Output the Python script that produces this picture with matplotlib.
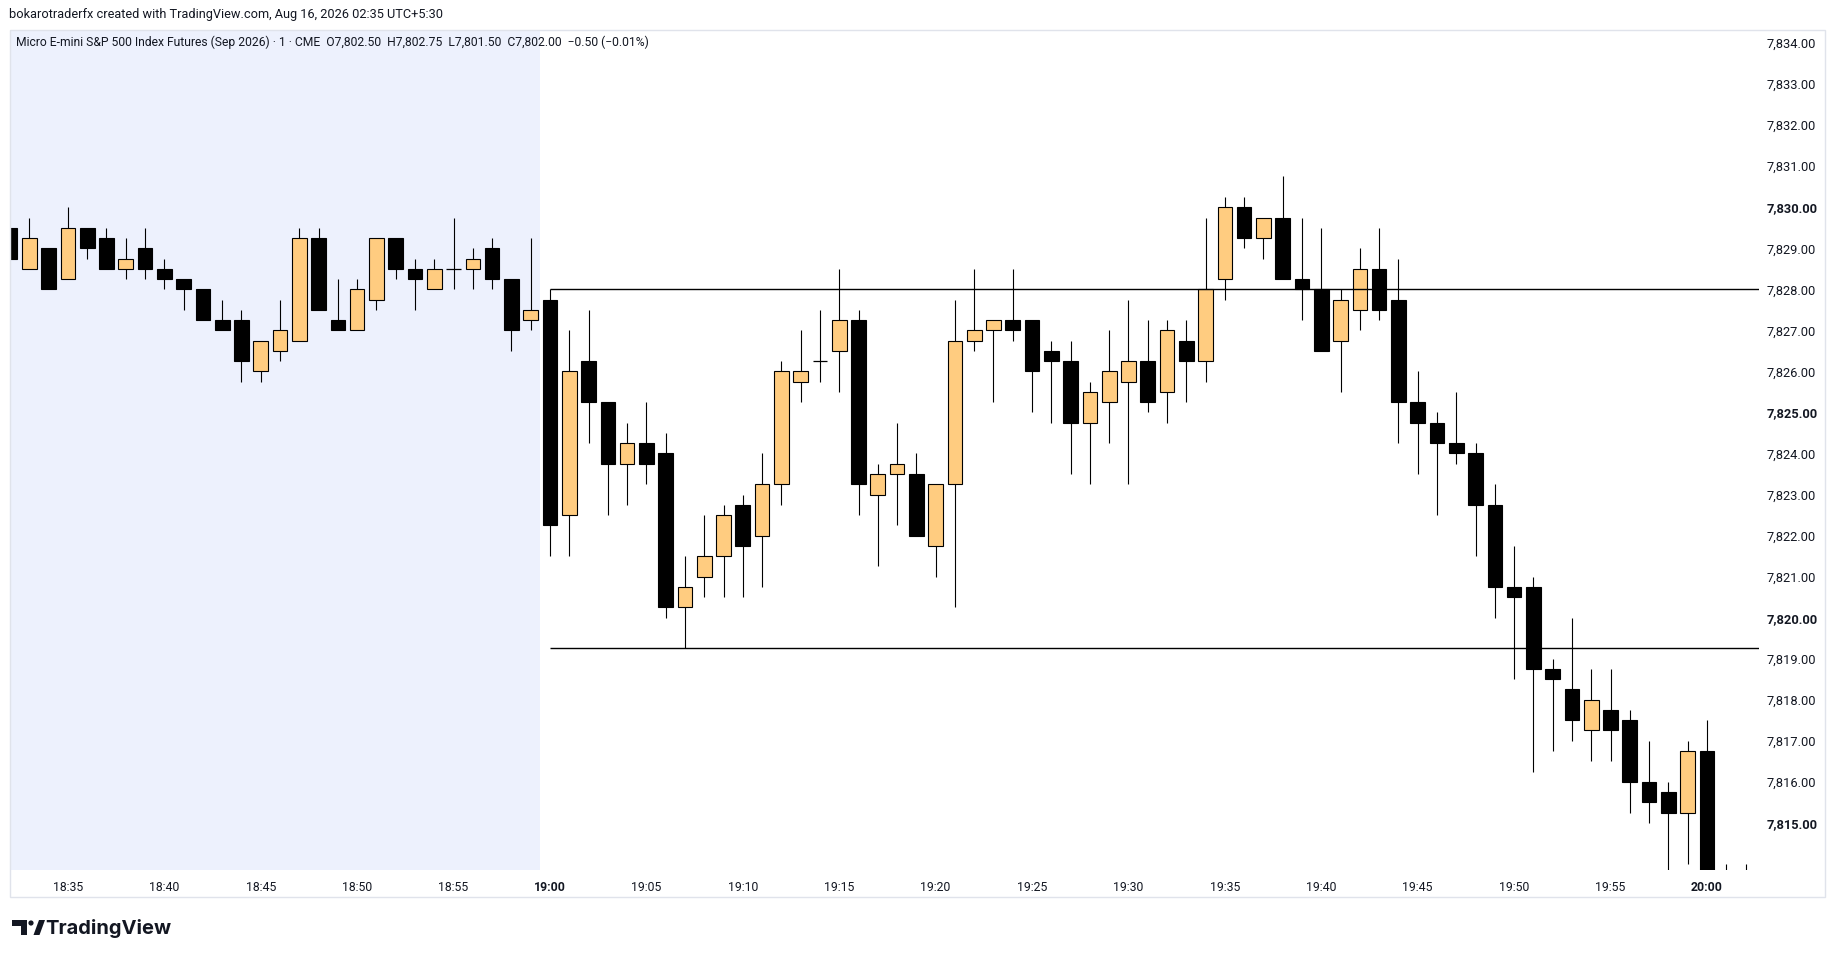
import numpy as np
import matplotlib
matplotlib.use('Agg')
import matplotlib.pyplot as plt
from matplotlib.patches import Rectangle, Polygon, Circle

plt.rcParams['font.family'] = ['Roboto', 'DejaVu Sans']

# 1 minute candles, 18:32 .. 20:02 (x = minutes from 19:00)
start_minute = -28
opens = [7829.5, 7828.5, 7829.0, 7828.25, 7829.5, 7829.25, 7828.5, 7829.0, 7828.5, 7828.25,
         7828.0, 7827.25, 7827.25, 7826.0, 7826.5, 7826.75, 7829.25, 7827.25, 7827.0, 7827.75,
         7829.25, 7828.5, 7828.0, 7828.5, 7828.5, 7829.0, 7828.25, 7827.25,
         7827.75, 7822.5, 7826.25, 7825.25, 7823.75, 7824.25, 7824.0, 7820.25, 7821.0, 7821.5,
         7822.75, 7822.0, 7823.25, 7825.75, 7826.25, 7826.5, 7827.25, 7823.0, 7823.5, 7823.5,
         7821.75, 7823.25, 7826.75, 7827.0, 7827.25, 7827.25, 7826.5, 7826.25, 7824.75, 7825.25,
         7825.75, 7826.25, 7825.5, 7826.75, 7826.25, 7828.25, 7830.0, 7829.25, 7829.75, 7828.25,
         7828.0, 7826.75, 7827.5, 7828.5, 7827.75, 7825.25, 7824.75, 7824.25, 7824.0, 7822.75,
         7820.75, 7820.75, 7818.75, 7818.25, 7817.25, 7817.75, 7817.5, 7816.0, 7815.75, 7815.25,
         7816.75, 7812.0, 7811.75]
highs = [7829.5, 7829.75, 7829.0, 7830.0, 7829.5, 7829.5, 7829.25, 7829.5, 7828.75, 7828.25,
         7828.0, 7827.75, 7827.5, 7826.75, 7827.75, 7829.5, 7829.5, 7828.25, 7828.25, 7829.25,
         7829.25, 7828.75, 7828.75, 7829.75, 7829.0, 7829.25, 7828.25, 7829.25,
         7828.0, 7827.0, 7827.5, 7825.25, 7824.75, 7825.25, 7824.5, 7821.5, 7822.5, 7822.75,
         7823.0, 7824.0, 7826.25, 7827.0, 7827.5, 7828.5, 7827.5, 7823.75, 7824.75, 7824.0,
         7823.25, 7827.75, 7828.5, 7827.25, 7828.5, 7827.25, 7826.75, 7826.75, 7825.75, 7827.0,
         7827.75, 7827.25, 7827.25, 7827.25, 7829.75, 7830.25, 7830.25, 7829.75, 7830.75, 7829.75,
         7829.5, 7828.0, 7829.0, 7829.5, 7828.75, 7826.0, 7825.0, 7825.5, 7824.25, 7823.25,
         7821.75, 7821.0, 7819.0, 7820.0, 7818.75, 7818.75, 7817.75, 7817.0, 7816.0, 7817.0,
         7817.5, 7814.0, 7814.0]
lows = [7828.75, 7828.5, 7828.0, 7828.25, 7828.75, 7828.5, 7828.25, 7828.25, 7828.0, 7827.5,
        7827.25, 7827.0, 7825.75, 7825.75, 7826.25, 7826.75, 7827.5, 7827.0, 7827.0, 7827.5,
        7828.25, 7827.5, 7828.0, 7828.0, 7828.0, 7828.0, 7826.5, 7827.0,
        7821.5, 7821.5, 7824.25, 7822.5, 7822.75, 7823.25, 7820.0, 7819.25, 7820.5, 7820.5,
        7820.5, 7820.75, 7822.75, 7825.25, 7825.75, 7825.5, 7822.5, 7821.25, 7822.25, 7822.0,
        7821.0, 7820.25, 7826.5, 7825.25, 7826.75, 7825.0, 7824.75, 7823.5, 7823.25, 7824.25,
        7823.25, 7825.0, 7824.75, 7825.25, 7825.75, 7827.75, 7829.0, 7828.75, 7828.25, 7827.25,
        7826.5, 7825.5, 7827.0, 7827.25, 7824.25, 7823.5, 7822.5, 7823.75, 7821.5, 7820.0,
        7818.5, 7816.25, 7816.75, 7817.0, 7816.5, 7816.5, 7815.25, 7815.0, 7813.5, 7814.0,
        7811.5, 7811.25, 7811.0]
closes = [7828.75, 7829.25, 7828.0, 7829.5, 7829.0, 7828.5, 7828.75, 7828.5, 7828.25, 7828.0,
          7827.25, 7827.0, 7826.25, 7826.75, 7827.0, 7829.25, 7827.5, 7827.0, 7828.0, 7829.25,
          7828.5, 7828.25, 7828.5, 7828.5, 7828.75, 7828.25, 7827.0, 7827.5,
          7822.25, 7826.0, 7825.25, 7823.75, 7824.25, 7823.75, 7820.25, 7820.75, 7821.5, 7822.5,
          7821.75, 7823.25, 7826.0, 7826.0, 7826.25, 7827.25, 7823.25, 7823.5, 7823.75, 7822.0,
          7823.25, 7826.75, 7827.0, 7827.25, 7827.0, 7826.0, 7826.25, 7824.75, 7825.5, 7826.0,
          7826.25, 7825.25, 7827.0, 7826.25, 7828.0, 7830.0, 7829.25, 7829.75, 7828.25, 7828.0,
          7826.5, 7827.75, 7828.5, 7827.5, 7825.25, 7824.75, 7824.25, 7824.0, 7822.75, 7820.75,
          7820.5, 7818.75, 7818.5, 7817.5, 7818.0, 7817.25, 7816.0, 7815.5, 7815.25, 7816.75,
          7812.0, 7811.75, 7812.5]

level_lines = [7828.0, 7819.25]
price_ticks = list(range(7815, 7835))
time_ticks = ['18:35', '18:40', '18:45', '18:50', '18:55', '19:00', '19:05', '19:10', '19:15',
              '19:20', '19:25', '19:30', '19:35', '19:40', '19:45', '19:50', '19:55', '20:00']

title = 'bokarotraderfx created with TradingView.com, Aug 16, 2026 02:35 UTC+5:30'
legend = ('Micro E-mini S&P 500 Index Futures (Sep 2026) \u00b7 1 \u00b7 CME  O7,802.50  H7,802.75  '
          'L7,801.50  C7,802.00  \u22120.50 (\u22120.01%)')

W, H = 1835, 958
fig = plt.figure(figsize=(W / 100, H / 100), dpi=100)
fig.patch.set_facecolor('white')

px_l, px_r, px_t, px_b = 9.5, 1759, 30, 870
ax = fig.add_axes([px_l / W, 1 - px_b / H, (px_r - px_l) / W, (px_b - px_t) / H])
ax.set_xlim(-28.03, 62.7)
ax.set_ylim(7813.85, 7834.32)
ax.axvspan(-40, -0.5, color='#edf1fd', lw=0, zorder=0)

orange = '#ffcc80'
bw = 0.76
for i in range(len(opens)):
    x = start_minute + i
    o, h, l, c = opens[i], highs[i], lows[i], closes[i]
    ax.vlines(x, l, h, color='black', lw=0.8, zorder=2)
    if o == c:
        ax.hlines(o, x - bw / 2, x + bw / 2, color='black', lw=0.9, zorder=3)
        continue
    if c > o:
        rect = Rectangle((x - bw / 2, o), bw, c - o, fc=orange, ec='black', lw=0.8, zorder=3)
    else:
        rect = Rectangle((x - bw / 2, c), bw, o - c, fc='black', ec='black', lw=0.8, zorder=3)
    ax.add_patch(rect)

ax.hlines(level_lines, 0, 70, color='black', lw=1.0, zorder=4)

ax.yaxis.tick_right()
ax.set_yticks(price_ticks)
ax.set_yticklabels([f'{v:,.2f}' for v in price_ticks])
for v, lab in zip(price_ticks, ax.get_yticklabels()):
    if v % 5 == 0:
        lab.set_fontweight('bold')
ax.set_xticks(np.arange(-25, 61, 5))
ax.set_xticklabels(time_ticks)
for t, lab in zip(time_ticks, ax.get_xticklabels()):
    if t.endswith(':00'):
        lab.set_fontweight('bold')
ax.tick_params(axis='y', length=0, pad=5.5, labelsize=9.3, labelcolor='#131722')
ax.tick_params(axis='x', length=0, pad=8, labelsize=8.8, labelcolor='#131722')
for s in ax.spines.values():
    s.set_visible(False)

# overlay in pixel coordinates for frame, header and logo
ov = fig.add_axes([0, 0, 1, 1], zorder=5)
ov.set_xlim(0, W)
ov.set_ylim(H, 0)
ov.axis('off')
ov.patch.set_alpha(0)
ov.add_patch(Rectangle((9.5, 30), 1825 - 9.5, 897 - 30, fill=False, ec='#e0e3eb', lw=1.0))
ov.text(9, 14, title, fontsize=9.2, color='#131722', va='center', ha='left')
ov.text(16, 42, legend, fontsize=8.75, color='#131722', va='center', ha='left')

ov.add_patch(Polygon([(12.3, 920), (27, 920), (27, 935), (21, 935), (21, 925.7), (12.3, 925.7)],
                     closed=True, fc='#131722', ec='none'))
ov.add_patch(Circle((31, 923), 2.6, fc='#131722', ec='none'))
ov.add_patch(Polygon([(33.5, 935), (39.5, 935), (45, 920), (39, 920)], closed=True,
                     fc='#131722', ec='none'))
ov.text(45, 928, 'TradingView', fontsize=14.5, fontweight='bold', color='#131722',
        va='center', ha='left', family=['Inter', 'DejaVu Sans'])

fig.savefig('out.png', dpi=100)
